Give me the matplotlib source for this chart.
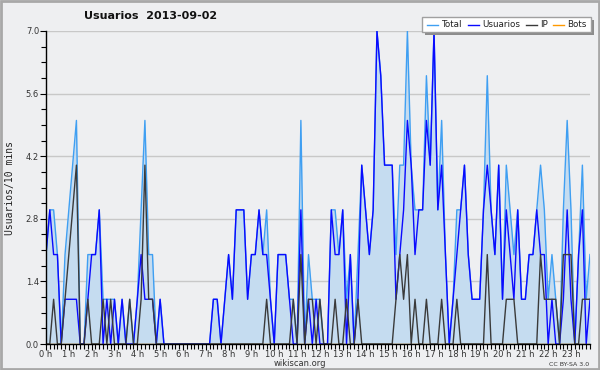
import numpy as np
import matplotlib
matplotlib.use("Agg")
import matplotlib.pyplot as plt
from matplotlib.patches import Rectangle
from matplotlib.lines import Line2D

title = "Usuarios  2013-09-02"
ylabel = "Usuarios/10 mins"
series_names = ["Total", "Usuarios", "IP", "Bots"]
hour_labels = [f"{h} h" for h in range(24)]
y_ticks = [0.0, 1.4, 2.8, 4.2, 5.6, 7.0]

total = [2,3,3,2,0,2,3,4,5,0, 0,2,2,2,3,1,1,1,1,0, 1,0,1,0,1,3,5,2,2,0,
         1,0,0,0,0,0,0,0,0,0, 0,0,0,0,1,1,0,1,2,1, 3,3,3,1,2,2,3,2,3,1,
         0,2,2,2,1,1,0,5,0,2, 1,1,1,0,0,3,3,2,3,1, 2,0,2,4,3,2,3,7,6,4,
         4,4,2,4,4,7,4,3,3,3, 6,4,7,3,5,2,0,1,3,3, 4,2,1,1,1,3,6,3,2,4,
         1,4,3,2,3,1,1,2,2,3, 4,3,1,2,1,0,3,5,3,0, 2,4,1,2]
usuarios = [2,3,2,2,0,1,1,1,1,0, 0,1,2,2,3,0,1,0,1,0, 1,0,0,0,1,2,1,1,1,0,
            1,0,0,0,0,0,0,0,0,0, 0,0,0,0,1,1,0,1,2,1, 3,3,3,1,2,2,3,2,2,1,
            0,2,2,2,1,0,0,3,0,1, 0,1,0,0,0,3,2,2,3,0, 2,0,1,4,3,2,3,7,6,4,
            4,4,1,2,3,5,4,2,3,3, 5,4,7,3,4,2,0,1,2,3, 4,2,1,1,1,3,4,3,2,4,
            1,3,2,1,3,1,1,2,2,3, 2,2,0,1,0,0,1,3,1,0, 2,3,0,1]
ip = [0,0,1,0,0,1,2,3,4,0, 0,1,0,0,0,1,0,1,0,0, 0,0,1,0,0,1,4,1,1,0,
      0,0,0,0,0,0,0,0,0,0, 0,0,0,0,0,0,0,0,0,0, 0,0,0,0,0,0,0,0,1,0,
      0,0,0,0,0,1,0,2,0,1, 1,0,1,0,0,0,1,0,0,1, 0,0,1,0,0,0,0,0,0,0,
      0,0,1,2,1,2,0,1,0,0, 1,0,0,0,1,0,0,0,1,0, 0,0,0,0,0,0,2,0,0,0,
      0,1,1,1,0,0,0,0,0,0, 2,1,1,1,1,0,2,2,2,0, 0,1,1,1]
bots = [0] * 144

c_total = "#3f9ff2"
c_fill = "#c5dcf0"
c_user = "#0a0aff"
c_ip = "#3a3a3a"
c_bots = "#ff9900"
bg = "#eeeff1"

x = np.arange(len(total)) / 6.0

fig = plt.figure(figsize=(6, 3.7), dpi=100, facecolor=bg)
ax = fig.add_axes([46/600, 1-344/370, 544/600, 313/370])
ax.set_facecolor(bg)

ax.set_xlim(0, x[-1])
ax.set_ylim(0, 7.0)

for yv in y_ticks[1:]:
    ax.axhline(yv, color="#c8c8c8", lw=1.0, zorder=0.5)

ax.fill_between(x, total, 0, color=c_fill, lw=0, zorder=1)
ax.plot(x, total, color=c_total, lw=1.0, zorder=2)
ax.plot(x, usuarios, color=c_user, lw=1.0, zorder=2.1)
ax.plot(x, ip, color=c_ip, lw=1.0, zorder=2.2)
ax.plot(x, bots, color=c_bots, lw=1.0, zorder=1.5)

for s in ["top", "right"]:
    ax.spines[s].set_visible(False)
for s in ["left", "bottom"]:
    ax.spines[s].set_color("black")
    ax.spines[s].set_linewidth(1.0)
    ax.spines[s].set_zorder(3)

ax.set_xticks(np.arange(24))
ax.set_xticklabels(hour_labels)
ax.set_xticks(np.arange(0, x[-1] + 1e-9, 1/6), minor=True)
ax.set_yticks(y_ticks)
ax.set_yticklabels([f"{v:.1f}" for v in y_ticks])
ax.set_yticks(np.arange(0, 7.01, 0.35), minor=True)
ax.tick_params(axis="both", which="both", direction="out", color="black",
               width=0.8, labelsize=6, labelcolor="#333333")
ax.tick_params(axis="x", which="major", length=4, pad=0.5)
ax.tick_params(axis="x", which="minor", length=3.5)
ax.tick_params(axis="y", which="major", length=4, pad=1)
ax.tick_params(axis="y", which="minor", length=3.5)

fig.text(10/600, 1-188/370, ylabel, rotation=90, ha="center", va="center",
         fontsize=7, family="DejaVu Sans Mono", color="#222222")
fig.text(151/600, 1-16/370, title, ha="center", va="center",
         fontsize=8, fontweight="bold", color="#111111")
fig.text(300/600, 1-364/370, "wikiscan.org", ha="center", va="center",
         fontsize=6, color="#333333")
fig.text(589/600, 1-364/370, "CC BY-SA 3.0", ha="right", va="center",
         fontsize=4.5, color="#333333")

# legend box with shadow
W, H = 600.0, 370.0
def fx(px):
    return px / W
def fy(py):
    return 1 - py / H
fig.patches.append(Rectangle((fx(425), fy(35)), fx(594) - fx(425), fy(20) - fy(35),
                             transform=fig.transFigure, facecolor="#8c8c8c",
                             edgecolor="none", zorder=5))
fig.patches.append(Rectangle((fx(422), fy(32)), fx(591) - fx(422), fy(17) - fy(32),
                             transform=fig.transFigure, facecolor="white",
                             edgecolor="#a0a0a0", lw=1.0, zorder=6))
leg_line_x = [427, 468, 526, 553]
leg_text_x = [441, 482, 540, 567]
leg_colors = [c_total, c_user, c_ip, c_bots]
for name, lx, tx, col in zip(series_names, leg_line_x, leg_text_x, leg_colors):
    fig.lines.append(Line2D([fx(lx), fx(lx + 11)], [fy(24.5), fy(24.5)],
                            transform=fig.transFigure, color=col, lw=1.0, zorder=7))
    fig.text(fx(tx), fy(24.5), name, ha="left", va="center", fontsize=6.3,
             color="#222222", zorder=7)

# outer frame
fig.patches.append(Rectangle((0.001, 0.002), 0.997, 0.995, transform=fig.transFigure,
                             facecolor="none", edgecolor="#a8a8a8", lw=2.0, zorder=10))

fig.savefig("out.png", dpi=100, facecolor=bg)
